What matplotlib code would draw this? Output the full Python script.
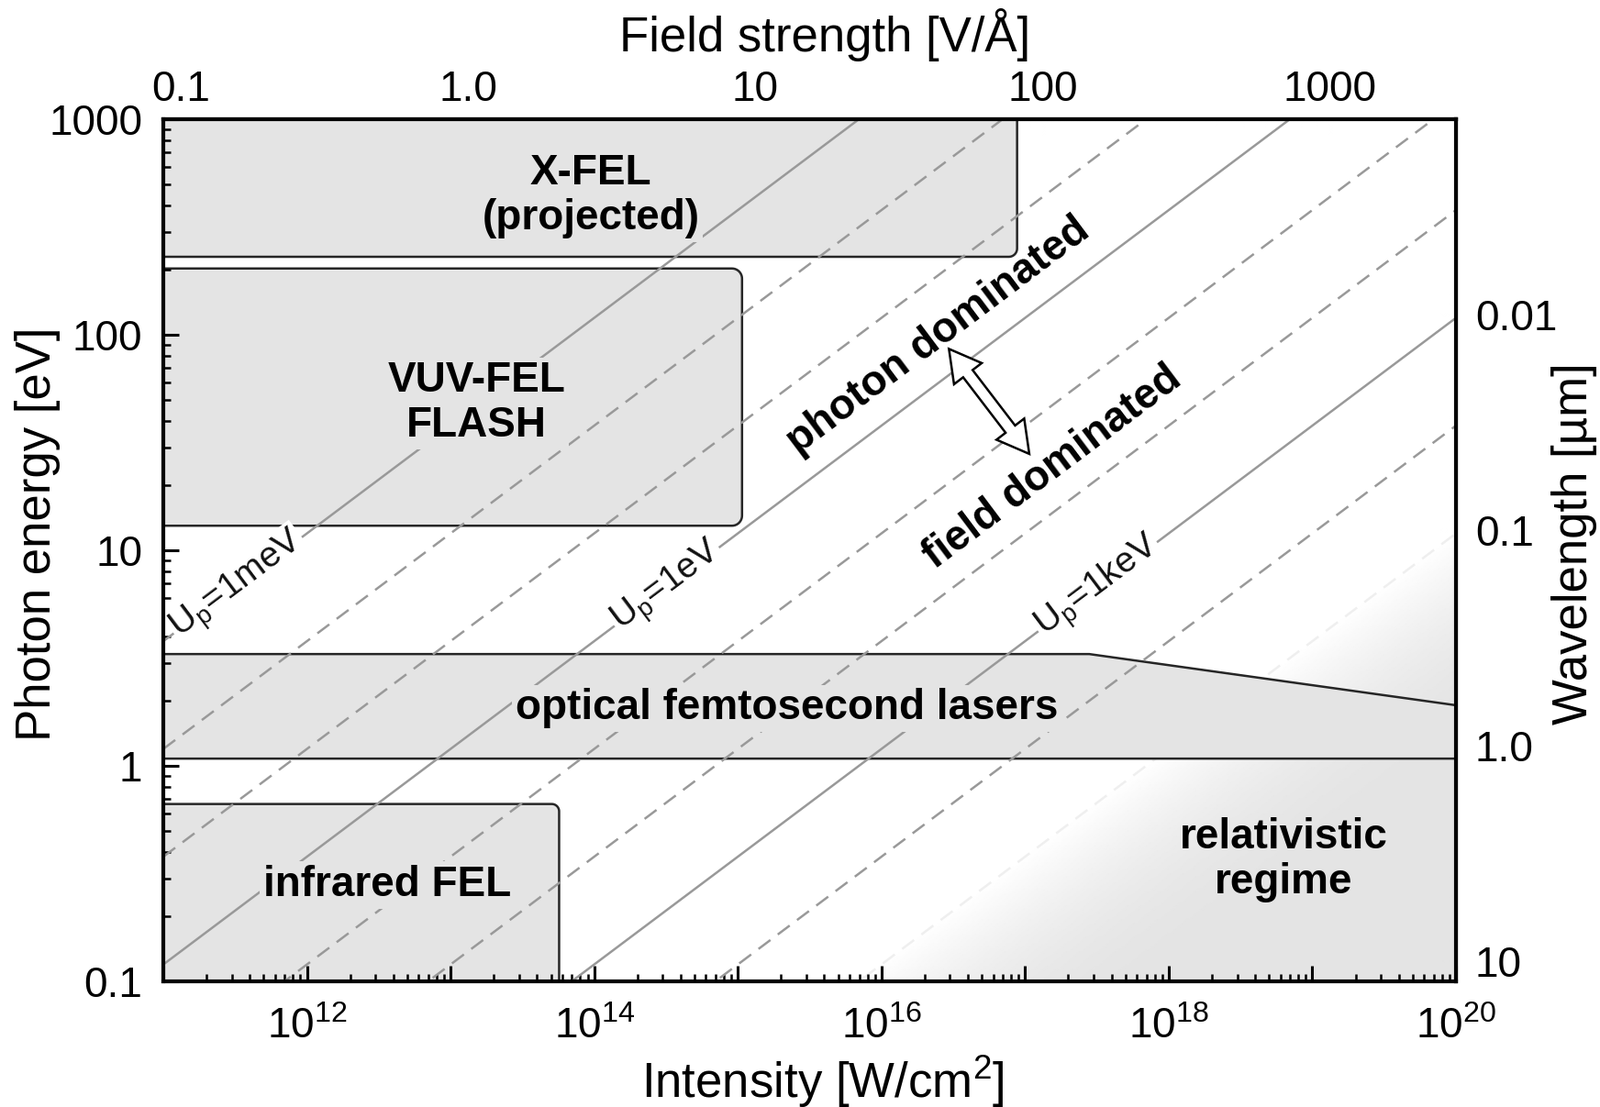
import numpy as np
import matplotlib
matplotlib.use('Agg')
import matplotlib.pyplot as plt
from matplotlib.patches import Polygon
from matplotlib.colors import LinearSegmentedColormap
from matplotlib.ticker import LogLocator, NullFormatter

plt.rcParams['font.family'] = ['Liberation Sans', 'DejaVu Sans']
plt.rcParams['mathtext.fontset'] = 'custom'
plt.rcParams['mathtext.rm'] = 'Liberation Sans'
plt.rcParams['mathtext.it'] = 'Liberation Sans:italic'
plt.rcParams['mathtext.bf'] = 'Liberation Sans:bold'

# ---------------- data ----------------
I_range = [1e11, 1e20]          # W/cm^2
E_range = [0.1, 1000]           # eV

UP_COEF = 9.33e-14              # Up[eV] = UP_COEF * I[W/cm2] * lambda[um]^2
HC = 1.23984                    # eV*um
FIELD_COEF = 1.327e13           # I[W/cm2] = FIELD_COEF * F[V/A]^2

up_solid = [1e-3, 1e0, 1e3]
up_dashed = [1e-2, 1e-1, 1e1, 1e2, 1e4]
up_faint = [1e5]
up_labels = ['U$_\\mathrm{p}$=1meV', 'U$_\\mathrm{p}$=1eV', 'U$_\\mathrm{p}$=1keV']
up_label_levels = [1e-3, 1e0, 1e3]
up_label_I = [3.3e11, 3.2e14, 3.2e17]

rel_start, rel_full = 1e5, 1e7  # gradient of relativistic regime (Up in eV)

xfel_I = [1e11, 8.8e16]; xfel_E = [230, 1000]
vuv_I = [1e11, 1.07e15]; vuv_E = [13, 203]
ir_I = [1e11, 5.7e13];   ir_E = [0.1, 0.665]
opt_I = [1e11, 2.8e17, 1e20]; opt_E_top = [3.3, 3.3, 1.91]; opt_E_bottom = 1.08

x_ticks = [10.0**k for k in range(11, 21)]
x_ticklabels = ['' if k % 2 else '$\\mathrm{10^{%d}}$' % k for k in range(11, 21)]
y_ticks = [0.1, 1, 10, 100, 1000]
y_ticklabels = ['0.1', '1', '10', '100', '1000']
f_ticks = [0.1, 1, 10, 100, 1000]
f_ticklabels = ['0.1', '1.0', '10', '100', '1000']
w_ticks = [0.01, 0.1, 1, 10]
w_ticklabels = ['0.01', '0.1', '1.0', '10']

region_labels = [
    ('X-FEL\n(projected)', 9.5e13, 440),
    ('VUV-FEL\nFLASH', 1.52e13, 48),
    ('optical femtosecond lasers', 2.2e15, 1.85),
    ('infrared FEL', 3.6e12, 0.28),
]
regime_labels = [('photon dominated', 2.5e16, 99), ('field dominated', 1.55e17, 24.2)]
rel_label = ('relativistic\nregime', 6.3e18, 0.365)
arrow_start, arrow_end = (2.95e16, 86), (1.07e17, 28)

BOX_GRAY = '#e4e4e4'
EDGE = '#262626'
LINE_GRAY = '#999999'

# ---------------- figure ----------------
fig = plt.figure(figsize=(17.44, 12.07), dpi=100)
ax = fig.add_axes([178/1744, 1-1070/1207, (1587-178)/1744, (1070-130)/1207])
ax.set_xscale('log'); ax.set_yscale('log')
ax.set_xlim(I_range); ax.set_ylim(E_range)


def E_of(I, up):
    return HC*np.sqrt(UP_COEF*np.asarray(I, float)/up)


def up_of(I, E):
    return UP_COEF*I*(HC/E)**2


# pixel per decade
p0 = ax.transData.transform((1e11, 0.1)); p1 = ax.transData.transform((1e12, 1.0))
pxx, pxy = p1[0]-p0[0], p1[1]-p0[1]


def rounded_box(x0, x1, y0, y1, corners, rpx=10):
    lx0, lx1, ly0, ly1 = np.log10([x0, x1, y0, y1])
    rx, ry = rpx/pxx, rpx/pxy
    spec = [('bl', lx0+rx, ly0+ry, 180, (lx0, ly0)),
            ('br', lx1-rx, ly0+ry, 270, (lx1, ly0)),
            ('tr', lx1-rx, ly1-ry, 0, (lx1, ly1)),
            ('tl', lx0+rx, ly1-ry, 90, (lx0, ly1))]
    pts = []
    for name, cx, cy, a0, corner in spec:
        if name in corners:
            a = np.radians(np.linspace(a0, a0+90, 12))
            pts += list(zip(cx+rx*np.cos(a), cy+ry*np.sin(a)))
        else:
            pts.append(corner)
    return 10**np.array(pts)


# relativistic gradient
gI = np.logspace(11, 20, 400); gE = np.logspace(-1, 3, 300)
GI, GE = np.meshgrid(gI, gE)
T = np.clip((np.log10(up_of(GI, GE)) - np.log10(rel_start)) /
            (np.log10(rel_full) - np.log10(rel_start)), 0, 1)
T = T*(2 - T)
cmap = LinearSegmentedColormap.from_list('rel', ['white', BOX_GRAY])
ax.pcolormesh(GI, GE, T, cmap=cmap, vmin=0, vmax=1, shading='gouraud',
              zorder=0.5, rasterized=True)

# boxes
boxes = [rounded_box(xfel_I[0], xfel_I[1], xfel_E[0], xfel_E[1], ['br'], 9),
         rounded_box(vuv_I[0], vuv_I[1], vuv_E[0], vuv_E[1], ['br', 'tr'], 11),
         rounded_box(ir_I[0], ir_I[1], ir_E[0], ir_E[1], ['tr'], 8),
         np.array([(opt_I[0], opt_E_bottom), (opt_I[2], opt_E_bottom),
                   (opt_I[2], opt_E_top[2]), (opt_I[1], opt_E_top[1]),
                   (opt_I[0], opt_E_top[0])])]
for b in boxes:
    ax.add_patch(Polygon(b, closed=True, fc=BOX_GRAY, ec=EDGE, lw=1.8, zorder=1))

# iso-Up lines
Ig = np.logspace(11, 20, 60)
for up in up_solid:
    ax.plot(Ig, E_of(Ig, up), color=LINE_GRAY, lw=1.8, zorder=2)
for up in up_dashed:
    ax.plot(Ig, E_of(Ig, up), color=LINE_GRAY, lw=1.8, ls=(0, (6.5, 4)), zorder=2)
for up in up_faint:
    ax.plot(Ig, E_of(Ig, up), color='#efefef', lw=1.8, ls=(0, (6.5, 4)), zorder=0.8)

# line angle on screen
q = ax.transData.transform([(1e12, E_of(1e12, 1)), (1e13, E_of(1e13, 1))])
ang = np.degrees(np.arctan2(q[1, 1]-q[0, 1], q[1, 0]-q[0, 0]))

for lab, lev, Il in zip(up_labels, up_label_levels, up_label_I):
    ax.text(Il, E_of(Il, lev), lab, rotation=ang, rotation_mode='anchor',
            ha='center', va='center', fontsize=28, color='#111111', zorder=2.2,
            bbox=dict(boxstyle='square,pad=0.05', fc='white', ec='none'))

for lab, x, y in region_labels:
    ax.text(x, y, lab, ha='center', va='center', fontsize=33, fontweight='bold',
            linespacing=1.15, zorder=4,
            bbox=dict(boxstyle='square,pad=0.08', fc=BOX_GRAY, ec='none'))
for lab, x, y in regime_labels:
    ax.text(x, y, lab, ha='center', va='center', fontsize=33, fontweight='bold',
            rotation=ang, rotation_mode='anchor', zorder=4)
ax.text(rel_label[1], rel_label[2], rel_label[0], ha='center', va='center',
        fontsize=33, fontweight='bold', linespacing=1.15, zorder=4)

# hollow double arrow
a1 = ax.transData.transform(arrow_start); a2 = ax.transData.transform(arrow_end)
u = (a2-a1)/np.hypot(*(a2-a1)); n = np.array([-u[1], u[0]])
hl, hw, w = 34, 19, 6.5
verts = [a1, a1+u*hl+n*hw, a1+u*hl+n*w, a2-u*hl+n*w, a2-u*hl+n*hw, a2,
         a2-u*hl-n*hw, a2-u*hl-n*w, a1+u*hl-n*w, a1+u*hl-n*hw]
verts = ax.transData.inverted().transform(np.array(verts))
ax.add_patch(Polygon(verts, closed=True, fc='white', ec='black', lw=1.8, zorder=5))

# ---------------- axes ----------------
ax.set_xticks(x_ticks, x_ticklabels)
ax.set_yticks(y_ticks, y_ticklabels)
for axis in (ax.xaxis, ax.yaxis):
    axis.set_minor_locator(LogLocator(base=10, subs=np.arange(2, 10), numticks=100))
    axis.set_minor_formatter(NullFormatter())
ax.tick_params(which='both', direction='in', top=False, right=False)
ax.tick_params(which='major', length=12, width=2.2, labelsize=33)
ax.tick_params(axis='x', which='major', pad=20)
ax.tick_params(axis='y', which='major', pad=16.5)
ax.tick_params(which='minor', length=6, width=1.8)
for s in ax.spines.values():
    s.set_linewidth(3)


def i2f(I):
    with np.errstate(invalid='ignore'):
        return np.sqrt(np.asarray(I, float)/FIELD_COEF)


def f2i(F):
    return FIELD_COEF*np.asarray(F, float)**2


def e2l(E):
    with np.errstate(divide='ignore'):
        return HC/np.asarray(E, float)


secx = ax.secondary_xaxis('top', functions=(i2f, f2i))
secx.set_xticks(f_ticks, f_ticklabels)
secx.xaxis.set_minor_locator(LogLocator(base=10, subs=np.arange(2, 10), numticks=100))
secx.xaxis.set_minor_formatter(NullFormatter())
secx.tick_params(which='both', direction='in')
secx.tick_params(which='major', length=12, width=2.2, labelsize=33, pad=7)
secx.tick_params(which='minor', length=6, width=1.8)
secx.spines['top'].set_linewidth(3)

secy = ax.secondary_yaxis('right', functions=(e2l, e2l))
secy.set_yticks(w_ticks, w_ticklabels)
secy.yaxis.set_minor_locator(LogLocator(base=10, subs=np.arange(2, 10), numticks=100))
secy.yaxis.set_minor_formatter(NullFormatter())
secy.tick_params(which='both', direction='in')
secy.tick_params(which='major', length=12, width=2.2, labelsize=33, pad=15)
secy.tick_params(which='minor', length=6, width=1.8)
secy.spines['right'].set_linewidth(3)

ax.set_xlabel('Intensity [W/cm$^\\mathrm{2}$]', fontsize=38)
ax.xaxis.set_label_coords(0.51, -0.084)
ax.set_ylabel('Photon energy [eV]', fontsize=38)
ax.yaxis.set_label_coords(-0.0795, 0.5186)
secx.set_xlabel('Field strength [V/Å]', fontsize=38)
secx.xaxis.set_label_coords(0.512, 1.079, transform=ax.transAxes)
secy.set_ylabel('Wavelength [µm]', fontsize=38)
secy.yaxis.set_label_coords(1.074, 0.508, transform=ax.transAxes)

fig.savefig('out.png', dpi=100)
